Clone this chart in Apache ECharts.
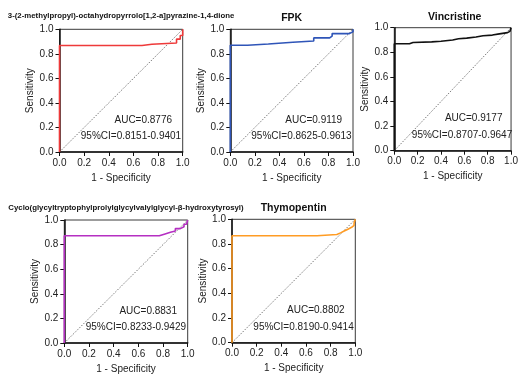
<!DOCTYPE html>
<html>
<head>
<meta charset="utf-8">
<script src="https://cdn.jsdelivr.net/npm/echarts@6/dist/echarts.min.js"></script>
<style>
html,body{margin:0;padding:0;background:#fff;}
#chart{width:521px;height:375px;}
</style>
</head>
<body>
<div id="chart"></div>
<script>
// ---- Data ----
const panelTitles = [
  '3-(2-methylpropyl)-octahydropyrrolo[1,2-a]pyrazine-1,4-dione',
  'FPK',
  'Vincristine',
  'Cyclo(glycyltryptophylprolylglycylvalylglycyl-β-hydroxytyrosyl)',
  'Thymopentin'
];
const aucLabels = ['AUC=0.8776', 'AUC=0.9119', 'AUC=0.9177', 'AUC=0.8831', 'AUC=0.8802'];
const ciLabels = ['95%CI=0.8151-0.9401', '95%CI=0.8625-0.9613', '95%CI=0.8707-0.9647', '95%CI=0.8233-0.9429', '95%CI=0.8190-0.9414'];
const tickLabels = ['0.0', '0.2', '0.4', '0.6', '0.8', '1.0'];
const xAxisName = '1 - Specificity';
const yAxisName = 'Sensitivity';

// ROC step points: 1 - specificity where sensitivity changes, and sensitivity after the step
const roc1Fpr  = [0, 0.67, 0.75, 0.95, 0.98, 1.0];
const roc1Sens = [0.868, 0.878, 0.888, 0.92, 0.95, 1.0];

const roc2Fpr  = [0, 0.14, 0.31, 0.51, 0.68, 0.81, 0.83, 0.97, 1.0];
const roc2Sens = [0.870, 0.880, 0.895, 0.905, 0.930, 0.945, 0.965, 0.98, 1.0];

const roc3Fpr  = [0, 0.13, 0.16, 0.32, 0.40, 0.50, 0.55, 0.62, 0.70, 0.76, 0.84, 0.90, 0.97, 0.99, 1.0];
const roc3Sens = [0.870, 0.880, 0.885, 0.890, 0.900, 0.910, 0.915, 0.925, 0.935, 0.940, 0.950, 0.960, 0.970, 0.980, 1.0];

const roc4Fpr  = [0, 0.77, 0.81, 0.86, 0.90, 0.94, 0.97, 0.99, 1.0];
const roc4Sens = [0.872, 0.885, 0.900, 0.910, 0.930, 0.945, 0.965, 0.980, 1.0];

const roc5Fpr  = [0, 0.69, 0.85, 0.88, 0.91, 0.94, 0.97, 0.99, 1.0];
const roc5Sens = [0.867, 0.877, 0.890, 0.905, 0.920, 0.935, 0.950, 0.970, 1.0];

const diagonalX = [0, 1];
const diagonalY = [0, 1];

// ---- Styles / layout ----
const colors = ['#ee3a3a', '#2f55b8', '#111111', '#b52fc2', '#ff9c24'];
const grids = [
  {left: 59.5, top: 29.3, width: 123.2, height: 122.7},
  {left: 230.3, top: 29.3, width: 122.7, height: 122.7},
  {left: 394.3, top: 27.7, width: 120.7, height: 123},
  {left: 64.3, top: 220, width: 123.4, height: 123.3},
  {left: 232, top: 219.3, width: 123.3, height: 123.4}
];
const titleStyle = [
  {y: 16, size: 7.8},
  {y: 18, size: 10.5},
  {y: 16.7, size: 10.5},
  {y: 207.5, size: 7.8},
  {y: 208.3, size: 10.5}
];
const FONT = 'Arial, "Liberation Sans", Helvetica, sans-serif';
const rocFpr = [roc1Fpr, roc2Fpr, roc3Fpr, roc4Fpr, roc5Fpr];
const rocSens = [roc1Sens, roc2Sens, roc3Sens, roc4Sens, roc5Sens];

function buildSteps(fpr, sens) {
  const pts = [[0, 0]];
  let prev = 0;
  for (let i = 0; i < fpr.length; i++) {
    pts.push([fpr[i], prev]);
    pts.push([fpr[i], sens[i]]);
    prev = sens[i];
  }
  if (fpr[fpr.length - 1] < 1) pts.push([1, prev]);
  return pts;
}

const chart = echarts.init(document.getElementById('chart'), null, {renderer: 'canvas'});

const option = {
  backgroundColor: '#ffffff',
  animation: false,
  grid: grids.map(g => Object.assign({show: true, borderColor: '#3a3a3a', borderWidth: 1, backgroundColor: 'transparent', containLabel: false}, g)),
  xAxis: grids.map((g, i) => ({
    type: 'value', gridIndex: i, min: 0, max: 1, interval: 0.2,
    name: xAxisName, nameLocation: 'middle', nameGap: 21,
    nameTextStyle: {fontFamily: FONT, fontSize: 10, color: '#222'},
    axisLine: {show: true, onZero: false, lineStyle: {color: '#111', width: 1.5}},
    axisTick: {show: true, inside: false, length: 4, lineStyle: {color: '#111', width: 1}},
    axisLabel: {margin: 6, fontFamily: FONT, fontSize: 10, color: '#222',
      formatter: v => tickLabels[Math.round(v * 5)]},
    splitLine: {show: false}
  })),
  yAxis: grids.map((g, i) => ({
    type: 'value', gridIndex: i, min: 0, max: 1, interval: 0.2,
    name: yAxisName, nameLocation: 'middle', nameGap: 24,
    nameTextStyle: {fontFamily: FONT, fontSize: 10, color: '#222'},
    axisLine: {show: true, onZero: false, lineStyle: {color: '#111', width: 1.5}},
    axisTick: {show: true, inside: false, length: 4, lineStyle: {color: '#111', width: 1}},
    axisLabel: {margin: 6, fontFamily: FONT, fontSize: 10, color: '#222',
      formatter: v => tickLabels[Math.round(v * 5)]},
    splitLine: {show: false}
  })),
  series: []
};

for (let i = 0; i < 5; i++) {
  option.series.push({
    type: 'line', xAxisIndex: i, yAxisIndex: i, symbol: 'none', silent: true,
    data: diagonalX.map((x, k) => [x, diagonalY[k]]),
    lineStyle: {color: '#555', width: 0.8, type: [1.5, 1.5]}, z: 2
  });
  option.series.push({
    type: 'line', xAxisIndex: i, yAxisIndex: i, symbol: 'none', silent: true,
    data: buildSteps(rocFpr[i], rocSens[i]),
    lineStyle: {color: colors[i], width: 1.6}, z: 3
  });
}

chart.setOption(option);

// Text annotations placed through the axes' scales
const graphics = [];
for (let i = 0; i < 5; i++) {
  const g = grids[i];
  graphics.push({
    type: 'text', x: g.left + g.width / 2, y: titleStyle[i].y,
    style: {text: panelTitles[i], font: 'bold ' + titleStyle[i].size + 'px ' + FONT, fill: '#111', align: 'center', verticalAlign: 'middle'}
  });
  const pA = chart.convertToPixel({gridIndex: i}, [0.68, 0.26]);
  const pC = chart.convertToPixel({gridIndex: i}, [0.58, 0.125]);
  graphics.push({
    type: 'text', x: pA[0], y: pA[1],
    style: {text: aucLabels[i], font: '10px ' + FONT, fill: '#222', align: 'center', verticalAlign: 'middle'}, z: 10
  });
  graphics.push({
    type: 'text', x: pC[0], y: pC[1],
    style: {text: ciLabels[i], font: '10px ' + FONT, fill: '#222', align: 'center', verticalAlign: 'middle'}, z: 10
  });
}
chart.setOption({graphic: graphics});
</script>
</body>
</html>
